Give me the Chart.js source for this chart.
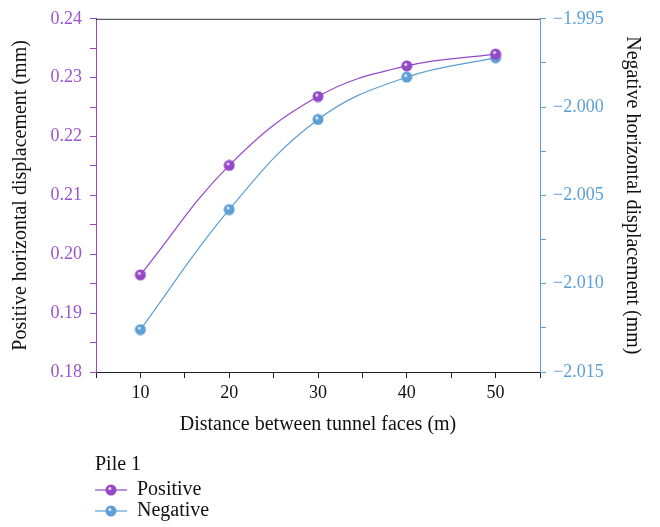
<!DOCTYPE html>
<html>
<head>
<meta charset="utf-8">
<script src="https://cdn.jsdelivr.net/npm/chart.js@4"></script>
<style>
  body { margin: 0; background: #fff; }
</style>
</head>
<body>
<canvas id="pileChart" width="660" height="527"></canvas>
<script>
// values
const distances = [10, 20, 30, 40, 50];
const positiveDisp = [0.1965, 0.2151, 0.2268, 0.2320, 0.2340];
const negativeDisp = [-2.0126, -2.0058, -2.0007, -1.9983, -1.9972];

const purple = "#9448c6";
const purpleText = "#9a55cf";
const blue = "#5b9fd6";
const serif = "'Liberation Serif', 'DejaVu Serif', serif";

// little shaded ball used as the marker
function makeBall(color) {
    let c = document.createElement("canvas");
    c.width = 12; c.height = 12;
    let ctx = c.getContext("2d");
    let g = ctx.createRadialGradient(4.6, 4.2, 0.4, 6, 6, 6);
    g.addColorStop(0, "#ffffff");
    g.addColorStop(0.3, color);
    g.addColorStop(1, color);
    ctx.fillStyle = g;
    ctx.beginPath();
    ctx.arc(6, 6, 5.5, 0, Math.PI * 2);
    ctx.fill();
    return c;
}
const purpleBall = makeBall(purple);
const blueBall = makeBall(blue);

function toPoints(ys) {
    return distances.map((x, i) => ({ x: x, y: ys[i] }));
}

const frameAndLegend = {
    id: "frameAndLegend",
    afterDraw(chart) {
        let ctx = chart.ctx;
        let a = chart.chartArea;
        ctx.save();
        // top border of the frame
        ctx.strokeStyle = "#333";
        ctx.lineWidth = 1;
        ctx.beginPath();
        ctx.moveTo(a.left, a.top + 0.5);
        ctx.lineTo(a.right, a.top + 0.5);
        ctx.stroke();

        // legend under the chart
        ctx.font = "20px " + serif;
        ctx.fillStyle = "#111";
        ctx.textBaseline = "middle";
        ctx.textAlign = "left";
        ctx.fillText("Pile 1", 95, 465);
        let rows = [
            { label: "Positive", color: purple, ball: purpleBall, y: 490 },
            { label: "Negative", color: blue, ball: blueBall, y: 511 }
        ];
        rows.forEach(r => {
            ctx.strokeStyle = r.color;
            ctx.lineWidth = 1.2;
            ctx.beginPath();
            ctx.moveTo(95, r.y);
            ctx.lineTo(127, r.y);
            ctx.stroke();
            ctx.drawImage(r.ball, 111 - 6, r.y - 6);
            ctx.fillStyle = "#111";
            ctx.fillText(r.label, 137, r.y);
        });
        ctx.restore();
    }
};

new Chart(document.getElementById("pileChart"), {
    type: "line",
    data: {
        datasets: [{
            label: "Positive",
            data: toPoints(positiveDisp),
            yAxisID: "y",
            borderColor: purple,
            borderWidth: 1.2,
            tension: 0.4,
            pointStyle: purpleBall,
            pointRadius: 6,
            fill: false
        }, {
            label: "Negative",
            data: toPoints(negativeDisp),
            yAxisID: "y1",
            borderColor: blue,
            borderWidth: 1.2,
            tension: 0.4,
            pointStyle: blueBall,
            pointRadius: 6,
            fill: false
        }]
    },
    options: {
        responsive: false,
        animation: false,
        layout: { padding: { top: 15, left: 0, right: 0, bottom: 89 } },
        plugins: {
            legend: { display: false },
            tooltip: { enabled: false }
        },
        scales: {
            x: {
                type: "linear",
                min: 5,
                max: 55,
                afterFit: s => { s.height = 66; },
                grid: { drawOnChartArea: false, tickLength: 6, tickColor: "#222" },
                border: { color: "#222", width: 1 },
                ticks: {
                    stepSize: 5,
                    autoSkip: false,
                    maxRotation: 0,
                    padding: 4,
                    color: "#111",
                    font: { family: serif, size: 18 },
                    callback: v => (v % 10 === 0 && v >= 10 && v <= 50) ? String(v) : ""
                },
                title: {
                    display: true,
                    text: "Distance between tunnel faces (m)",
                    color: "#111",
                    font: { family: serif, size: 20 },
                    padding: { top: 0, bottom: 1 }
                }
            },
            y: {
                position: "left",
                min: 0.18,
                max: 0.24,
                afterFit: s => { s.width = 96; },
                grid: { drawOnChartArea: false, tickLength: 6, tickColor: purple },
                border: { color: purple, width: 1 },
                ticks: {
                    stepSize: 0.005,
                    autoSkip: false,
                    padding: 8,
                    color: purpleText,
                    font: { family: serif, size: 18 },
                    callback: v => Math.round(v * 1000) % 10 === 0 ? v.toFixed(2) : ""
                },
                title: {
                    display: true,
                    text: "Positive horizontal displacement (mm)",
                    color: "#111",
                    font: { family: serif, size: 20 },
                    padding: { top: 9, bottom: 0 }
                }
            },
            y1: {
                position: "right",
                min: -2.015,
                max: -1.995,
                afterFit: s => { s.width = 120; },
                grid: { drawOnChartArea: false, tickLength: 6, tickColor: blue },
                border: { color: blue, width: 1 },
                ticks: {
                    stepSize: 0.0025,
                    autoSkip: false,
                    padding: 7,
                    color: blue,
                    font: { family: serif, size: 18 },
                    callback: v => Math.round(v * 10000) % 50 === 0 ? "\u2212" + Math.abs(v).toFixed(3) : ""
                },
                title: {
                    display: true,
                    text: "Negative horizontal displacement (mm)",
                    color: "#111",
                    font: { family: serif, size: 20 },
                    padding: { top: 16, bottom: 0 }
                }
            }
        }
    },
    plugins: [frameAndLegend]
});
</script>
</body>
</html>
